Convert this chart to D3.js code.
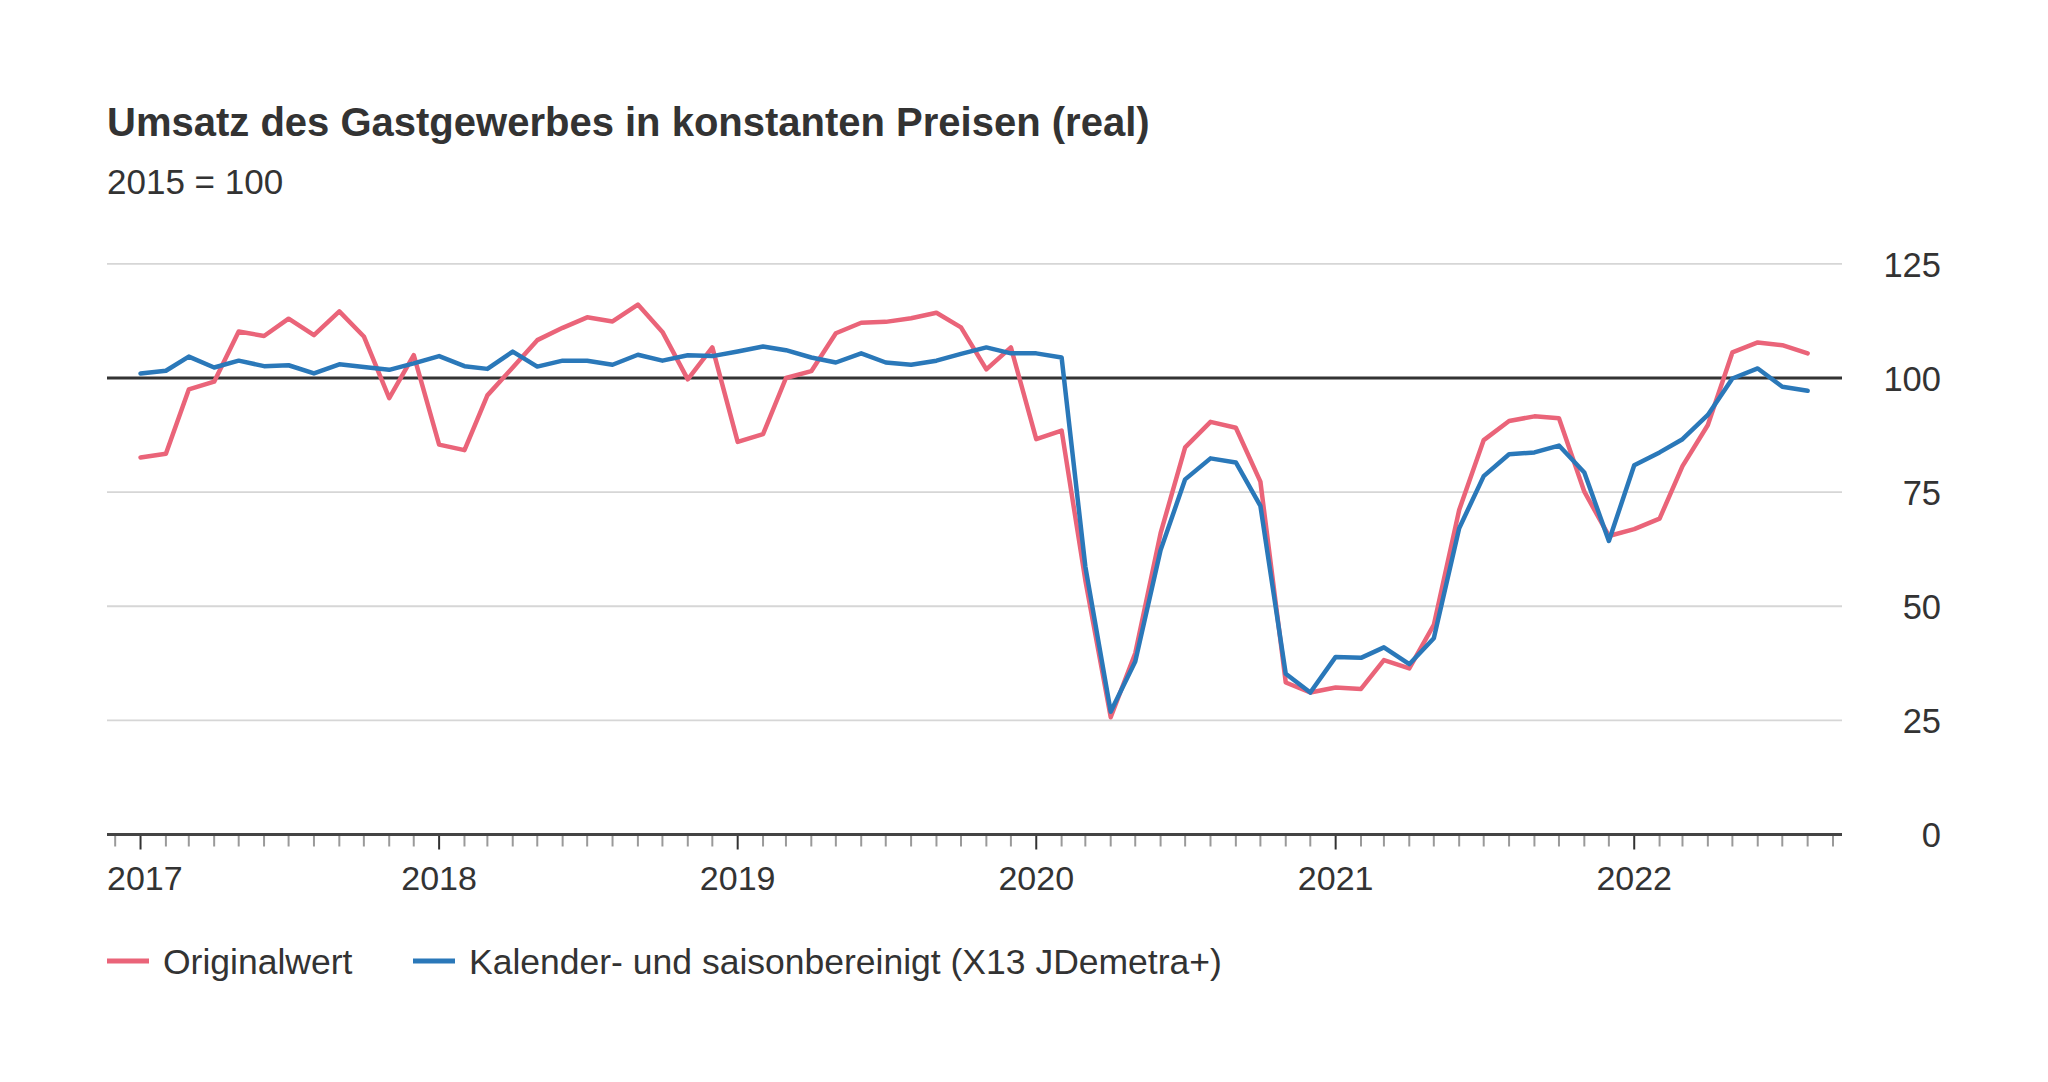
<!DOCTYPE html>
<html>
<head>
<meta charset="utf-8">
<script src="https://cdn.jsdelivr.net/npm/d3@7"></script>
<style>
  html, body { margin: 0; padding: 0; background: #ffffff; }
  svg { display: block; }
  text { font-family: "Liberation Sans", Arial, sans-serif; fill: #333333; }
</style>
</head>
<body>
<svg id="chart" width="2048" height="1082"></svg>
<script>
// ---- Data ----
const title = "Umsatz des Gastgewerbes in konstanten Preisen (real)";
const subtitle = "2015 = 100";
const seriesNames = ["Originalwert", "Kalender- und saisonbereinigt (X13 JDemetra+)"];
const firstMonth = "2017-01-01";
const lastMonth = "2022-08-01";
const original = [
  82.6, 83.4, 97.5, 99.2, 110.2, 109.2, 113.0, 109.4, 114.6, 109.1, 95.6, 105.0,
  85.4, 84.2, 96.2, 102.3, 108.3, 111.0, 113.3, 112.4, 116.1, 110.1, 99.7, 106.7,
  86.0, 87.7, 100.0, 101.5, 109.8, 112.1, 112.3, 113.1, 114.3, 111.1, 101.9, 106.7,
  86.6, 88.5, 55.7, 25.7, 39.7, 66.0, 84.8, 90.4, 89.1, 77.3, 33.3, 31.1,
  32.2, 31.9, 38.2, 36.4, 45.9, 71.1, 86.4, 90.6, 91.6, 91.2, 75.1, 65.4,
  66.9, 69.2, 80.7, 89.7, 105.6, 107.8, 107.2, 105.4
];
const adjusted = [
  101.0, 101.6, 104.7, 102.3, 103.8, 102.6, 102.8, 101.0, 103.0, 102.4, 101.8, 103.2,
  104.8, 102.6, 102.0, 105.8, 102.5, 103.8, 103.8, 102.9, 105.1, 103.8, 105.0, 104.8,
  105.8, 106.9, 106.1, 104.5, 103.4, 105.4, 103.4, 102.9, 103.8, 105.3, 106.7, 105.4,
  105.4, 104.5, 58.7, 26.9, 37.9, 62.3, 77.8, 82.4, 81.5, 72.0, 35.2, 31.1,
  38.9, 38.7, 41.0, 37.3, 43.0, 67.1, 78.5, 83.3, 83.7, 85.2, 79.3, 64.3,
  80.9, 83.7, 86.6, 91.9, 99.9, 102.1, 98.1, 97.2
];
const yTicks = [0, 25, 50, 75, 100, 125];
const colors = ["#ea6479", "#2a78b9"];

// ---- Layout ----
const svg = d3.select("#chart");
const plotLeft = 107, plotRight = 1842, plotTop = 263.9, plotBottom = 834.5;

const parse = d3.utcParse("%Y-%m-%d");
const months = d3.utcMonth.range(parse(firstMonth), d3.utcMonth.offset(parse(lastMonth), 1));

const x = d3.scaleUtc()
  .domain([parse("2016-11-21"), parse("2022-09-12")])
  .range([plotLeft, plotRight]);
const y = d3.scaleLinear().domain([0, 125]).range([plotBottom, plotTop]);

// Title & subtitle
svg.append("text").attr("x", 107).attr("y", 136)
  .style("font-size", "40px").style("font-weight", "bold").text(title);
svg.append("text").attr("x", 107).attr("y", 194)
  .style("font-size", "35px").text(subtitle);

// Gridlines
const grid = svg.append("g");
grid.selectAll("line").data(yTicks.filter(d => d !== 0 && d !== 100)).join("line")
  .attr("x1", plotLeft).attr("x2", plotRight)
  .attr("y1", d => y(d)).attr("y2", d => y(d))
  .attr("stroke", "#d6d6d6").attr("stroke-width", 1.8);

// Y axis labels (right side)
const yAxis = d3.axisRight(y).tickValues(yTicks).tickSize(0).tickPadding(0);
const gy = svg.append("g").attr("transform", `translate(1941,0)`).call(yAxis);
gy.select(".domain").remove();
gy.selectAll("text").attr("text-anchor", "end").attr("x", 0).attr("dy", "0.36em")
  .style("font-size", "34.5px").style("font-family", "'Liberation Sans', Arial, sans-serif")
  .attr("fill", "#333333");

// Reference line at 100
svg.append("line").attr("x1", plotLeft).attr("x2", plotRight)
  .attr("y1", y(100)).attr("y2", y(100))
  .attr("stroke", "#333333").attr("stroke-width", 2.8);

// X axis: monthly ticks
const axisY = y(0);
const allTicks = d3.utcMonth.range(parse("2016-12-01"), parse("2022-09-02"));
const gx = svg.append("g");
gx.selectAll("line.tick").data(allTicks).join("line")
  .attr("class", "tick")
  .attr("x1", d => x(d)).attr("x2", d => x(d))
  .attr("y1", axisY).attr("y2", d => d.getUTCMonth() === 0 ? axisY + 15 : axisY + 12)
  .attr("stroke", d => d.getUTCMonth() === 0 ? "#333333" : "#9a9a9a")
  .attr("stroke-width", 2);
gx.append("line").attr("x1", plotLeft).attr("x2", plotRight)
  .attr("y1", axisY).attr("y2", axisY)
  .attr("stroke", "#444444").attr("stroke-width", 3);

const years = allTicks.filter(d => d.getUTCMonth() === 0);
gx.selectAll("text").data(years).join("text")
  .attr("x", d => x(d)).attr("y", 890)
  .attr("text-anchor", "middle")
  .style("font-size", "34px")
  .text(d => d3.utcFormat("%Y")(d))
  .each(function() {
    const bb = this.getBBox();
    if (bb.x < plotLeft) d3.select(this).attr("x", +d3.select(this).attr("x") + (plotLeft - bb.x));
  });

// Lines
const line = d3.line().x((d, i) => x(months[i])).y(d => y(d));
[original, adjusted].forEach((s, k) => {
  svg.append("path").datum(s)
    .attr("d", line)
    .attr("fill", "none")
    .attr("stroke", colors[k])
    .attr("stroke-width", 4.5)
    .attr("stroke-linejoin", "round")
    .attr("stroke-linecap", "round");
});

// Legend
const legendX = [107, 413];
const legend = svg.append("g");
seriesNames.forEach((name, k) => {
  legend.append("line")
    .attr("x1", legendX[k]).attr("x2", legendX[k] + 42)
    .attr("y1", 961).attr("y2", 961)
    .attr("stroke", colors[k]).attr("stroke-width", 5);
  legend.append("text")
    .attr("x", legendX[k] + 56).attr("y", 974)
    .style("font-size", "35.5px").text(name);
});
</script>
</body>
</html>
